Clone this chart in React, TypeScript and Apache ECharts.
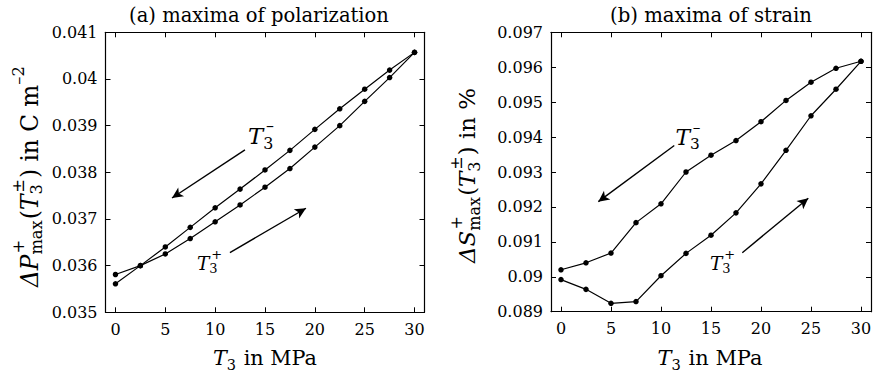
import React, { useEffect, useRef } from "react";
import * as echarts from "echarts";

// ---- data ----
const T3 = [0, 2.5, 5, 7.5, 10, 12.5, 15, 17.5, 20, 22.5, 25, 27.5, 30];
const polA = [0.03561, 0.0360, 0.0364, 0.03682, 0.03724, 0.03764, 0.03805, 0.03847, 0.03892, 0.03936, 0.03978, 0.04019, 0.04057];
const polB = [0.03581, 0.0360, 0.03625, 0.03658, 0.03694, 0.0373, 0.03768, 0.03808, 0.03854, 0.039, 0.03952, 0.04003, 0.04057];
const strainA = [0.0902, 0.0904, 0.09068, 0.09155, 0.09209, 0.093, 0.09348, 0.0939, 0.09444, 0.09505, 0.09557, 0.09597, 0.09617];
const strainB = [0.08992, 0.08964, 0.08924, 0.08929, 0.09003, 0.09067, 0.09119, 0.09183, 0.09266, 0.09362, 0.09461, 0.09537, 0.09617];
const xTicks = [0, 5, 10, 15, 20, 25, 30];
const polRange = [0.035, 0.041];
const strainRange = [0.089, 0.097];
// arrows [from, to] in data coordinates
const polArrowMinus = [[12.99, 0.03848], [5.67, 0.03745]];
const polArrowPlus = [[11.48, 0.03628], [19.11, 0.03723]];
const strainArrowMinus = [[11.33, 0.09376], [3.73, 0.09215]];
const strainArrowPlus = [[18.13, 0.09069], [24.73, 0.09225]];

const FONT = '"DejaVu Serif", "Liberation Serif", serif';
const MINUS = "\u2013";

type Tok = { t: string; it?: boolean } | { sup?: string; sub?: string; supDx?: number };

let measureCtx: CanvasRenderingContext2D | null = null;
function measure(text: string, size: number, italic: boolean) {
  if (!measureCtx) measureCtx = document.createElement("canvas").getContext("2d");
  measureCtx!.font = `${italic ? "italic " : ""}${size}px ${FONT}`;
  return measureCtx!.measureText(text).width;
}

function txt(text: string, x: number, y: number, size: number, italic: boolean) {
  return {
    type: "text",
    x,
    y,
    silent: true,
    style: {
      text,
      fontSize: size,
      fontFamily: FONT,
      fontStyle: italic ? "italic" : "normal",
      fill: "#000",
      align: "left",
      textAlign: "left",
      verticalAlign: "middle",
      textVerticalAlign: "middle",
    },
  };
}

function layout(toks: Tok[], size: number) {
  const small = size * 0.7;
  const items: any[] = [];
  let x = 0;
  for (const tok of toks) {
    if ("t" in tok) {
      items.push({ dx: x, el: txt(tok.t, 0, 0, size, !!tok.it) });
      x += measure(tok.t, size, !!tok.it);
    } else {
      let w = 0;
      const sdx = (tok.supDx || 0) * size;
      if (tok.sup) {
        items.push({ dx: x + sdx, el: txt(tok.sup, 0, -0.45 * size, small, false) });
        w = Math.max(w, sdx + measure(tok.sup, small, false));
      }
      if (tok.sub) {
        items.push({ dx: x, el: txt(tok.sub, 0, 0.32 * size, small, false) });
        w = Math.max(w, measure(tok.sub, small, false));
      }
      x += w + size * 0.05;
    }
  }
  return { items, W: x };
}

// lays out a formula centred on (cx, cy), scaled so its length is targetW
function mathText(toks: Tok[], targetW: number, cx: number, cy: number, rotation = 0) {
  const base = layout(toks, 20);
  const size = (20 * targetW) / base.W;
  const { items, W } = layout(toks, size);
  const children = items.map((it) => ({ ...it.el, x: it.dx - W / 2 }));
  return { type: "group", x: cx, y: cy, rotation, children, silent: true };
}

function fmt(v: number) {
  return parseFloat(v.toFixed(4)).toString();
}

export default function App() {
  const ref = useRef<HTMLDivElement>(null);
  useEffect(() => {
    if (!ref.current) return;
    const chart = echarts.init(ref.current, null, { renderer: "svg" });

    const grids = [
      { left: 105.5, right: 875 - 424.5, top: 32.3, bottom: 374 - 312.3 },
      { left: 551, right: 875 - 871, top: 32.3, bottom: 374 - 311.7 },
    ];

    const tickStyle = { show: true, inside: true, length: 5, lineStyle: { color: "#000", width: 1 } };
    const lineStyle = { show: true, onZero: false, lineStyle: { color: "#000", width: 1.2 } };
    const labelStyle = { color: "#000", fontFamily: FONT, fontSize: 16 };

    const xAxes: any[] = [];
    const yAxes: any[] = [];
    [0, 1].forEach((g) => {
      xAxes.push({
        type: "value",
        gridIndex: g,
        position: "bottom",
        min: -1,
        max: 31,
        axisLine: lineStyle,
        axisTick: { ...tickStyle, customValues: xTicks },
        axisLabel: { ...labelStyle, margin: 9, customValues: xTicks },
        splitLine: { show: false },
      });
      xAxes.push({
        type: "value",
        gridIndex: g,
        position: "top",
        min: -1,
        max: 31,
        axisLine: lineStyle,
        axisTick: { ...tickStyle, customValues: xTicks },
        axisLabel: { show: false, customValues: xTicks },
        splitLine: { show: false },
      });
      const rng = g === 0 ? polRange : strainRange;
      [("left" as const), ("right" as const)].forEach((pos) => {
        yAxes.push({
          type: "value",
          gridIndex: g,
          position: pos,
          min: rng[0],
          max: rng[1],
          interval: 0.001,
          axisLine: lineStyle,
          axisTick: tickStyle,
          axisLabel: pos === "left" ? { ...labelStyle, margin: 8, formatter: fmt } : { show: false },
          splitLine: { show: false },
        });
      });
    });

    const mk = (a: number[][]) => [[{ coord: a[0] }, { coord: a[1] }]];
    const markLine = (arrows: number[][][]) => ({
      silent: true,
      symbol: ["none", "arrow"],
      symbolSize: [8, 11],
      label: { show: false },
      lineStyle: { color: "#000", width: 1.4, type: "solid" },
      emphasis: { disabled: true },
      data: arrows.flatMap(mk),
    });

    const mkSeries = (vals: number[], g: number, ml?: any) => ({
      type: "line",
      xAxisIndex: g * 2,
      yAxisIndex: g * 2,
      data: T3.map((t, i) => [t, vals[i]]),
      symbol: "circle",
      symbolSize: 5.5,
      showSymbol: true,
      itemStyle: { color: "#000" },
      lineStyle: { color: "#000", width: 1.2 },
      emphasis: { disabled: true },
      markLine: ml,
    });

    const graphic = [
      mathText([{ t: "(a) maxima of polarization" }], 260, 259, 15),
      mathText([{ t: "(b) maxima of strain" }], 202, 711, 15),
      mathText([{ t: "T", it: true }, { sub: "3" }, { t: " in MPa" }], 104, 265, 358),
      mathText([{ t: "T", it: true }, { sub: "3" }, { t: " in MPa" }], 105, 710, 358),
      mathText(
        [
          { t: "ΔP", it: true },
          { sup: "+", sub: "max", supDx: 0.05 },
          { t: "(" },
          { t: "T", it: true },
          { sup: "±", sub: "3", supDx: 0.08 },
          { t: ") in C m" },
          { sup: MINUS + "2" },
        ],
        222,
        29,
        176,
        Math.PI / 2
      ),
      mathText(
        [
          { t: "ΔS", it: true },
          { sup: "+", sub: "max", supDx: 0.05 },
          { t: "(" },
          { t: "T", it: true },
          { sup: "±", sub: "3", supDx: 0.08 },
          { t: ") in %" },
        ],
        175,
        467,
        175.5,
        Math.PI / 2
      ),
      mathText([{ t: "T", it: true }, { sup: MINUS, sub: "3", supDx: 0.12 }], 27, 261.5, 136),
      mathText([{ t: "T", it: true }, { sup: "+", sub: "3", supDx: 0.1 }], 26, 210, 263),
      mathText([{ t: "T", it: true }, { sup: MINUS, sub: "3", supDx: 0.12 }], 26, 688.5, 137),
      mathText([{ t: "T", it: true }, { sup: "+", sub: "3", supDx: 0.1 }], 26, 723, 263),
    ];

    chart.setOption({
      animation: false,
      backgroundColor: "#fff",
      grid: grids,
      xAxis: xAxes,
      yAxis: yAxes,
      series: [
        mkSeries(polA, 0, markLine([polArrowMinus, polArrowPlus])),
        mkSeries(polB, 0),
        mkSeries(strainA, 1, markLine([strainArrowMinus, strainArrowPlus])),
        mkSeries(strainB, 1),
      ],
      graphic,
    });
    return () => chart.dispose();
  }, []);
  return (
    <div
      ref={ref}
      style={{ position: "absolute", left: 0, top: 0, width: 875, height: 374 }}
    />
  );
}
